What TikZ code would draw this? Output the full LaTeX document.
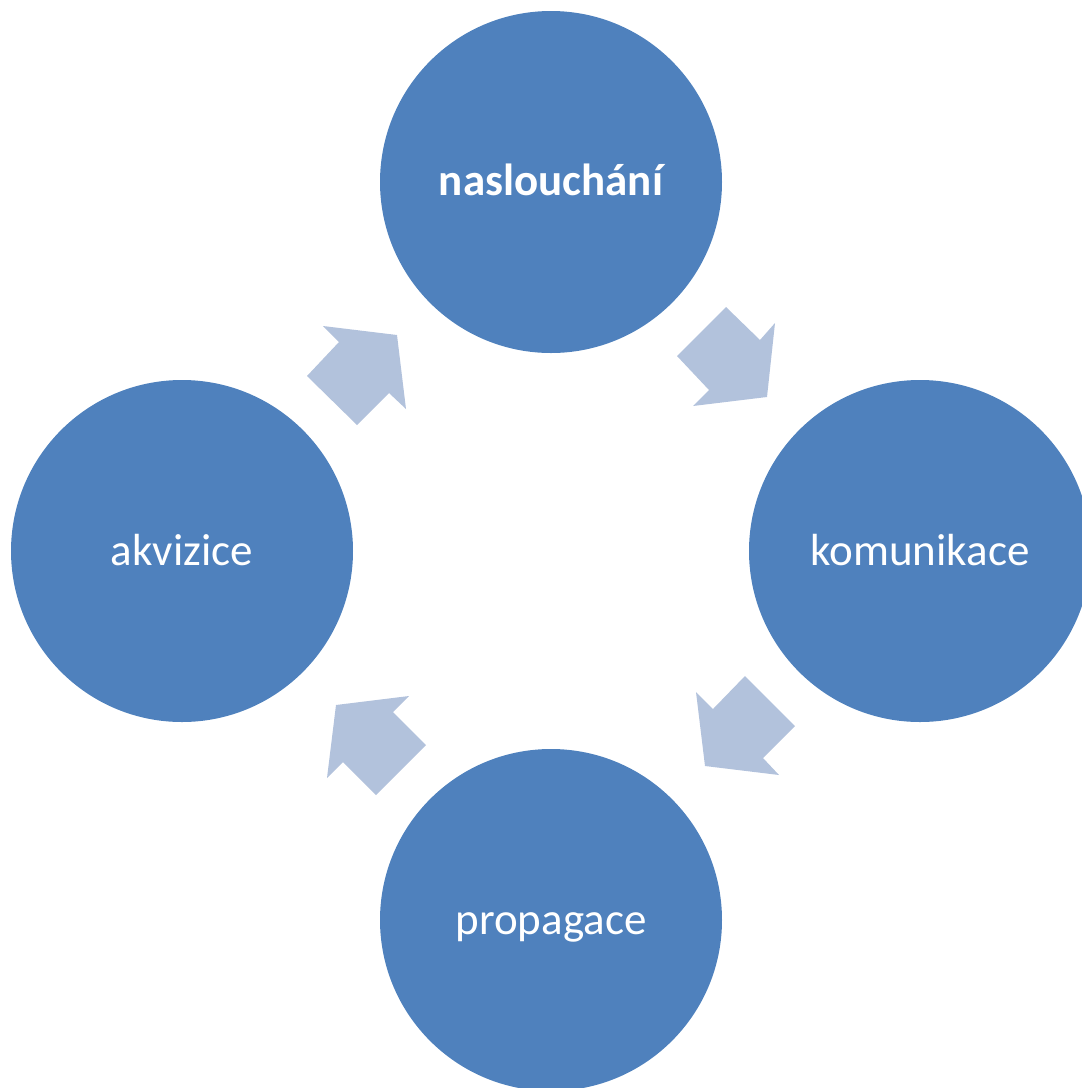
\documentclass[tikz,border=0pt]{standalone}
\usepackage{fontspec}
\setmainfont{Carlito}
\definecolor{circblue}{HTML}{4F81BD}
\definecolor{arrblue}{HTML}{B2C2DC}
\begin{document}
\begin{tikzpicture}[x=1pt,y=-1pt,
  circ/.style={circle,fill=circblue,minimum size=342pt,inner sep=0pt},
  lbl/.style={anchor=base,inner sep=0pt,text=white,font=\fontsize{45}{54}\selectfont},
  blockarrow/.style={fill=arrblue,draw=none}]
\useasboundingbox (0,0) rectangle (1082,1088);
\begin{scope}
\clip (0,0) rectangle (1082,1088);
\node[circ] (top) at (551,182) {};
\node[circ] (right) at (920,551) {};
\node[circ] (bottom) at (551,920) {};
\node[circ] (left) at (182,551) {};
\end{scope}
\node[lbl,font=\fontsize{45}{54}\selectfont\bfseries] (toptxt) at ([yshift=-13pt]top.center) {naslouchání};
\node[lbl] (righttxt) at ([yshift=-14pt]right.center) {komunikace};
\node[lbl] (bottomtxt) at ([yshift=-14pt]bottom.center) {propagace};
\node[lbl] (lefttxt) at ([yshift=-14pt]left.center) {akvizice};
\fill[blockarrow] (726,307) -- (760,340) -- (775,323) -- (767,397) -- (693,406) -- (709,390) -- (677,356) -- cycle;
\fill[blockarrow] (323,326) -- (339,342) -- (307,376) -- (357,425) -- (389,393) -- (406,409) -- (397,335) -- cycle;
\fill[blockarrow] (745,676) -- (795,726) -- (763,758) -- (779,775) -- (705,766) -- (696,692) -- (713,709) -- cycle;
\fill[blockarrow] (409,696) -- (393,712) -- (426,745) -- (376,795) -- (343,762) -- (327,778) -- (336,705) -- cycle;
\end{tikzpicture}
\end{document}
